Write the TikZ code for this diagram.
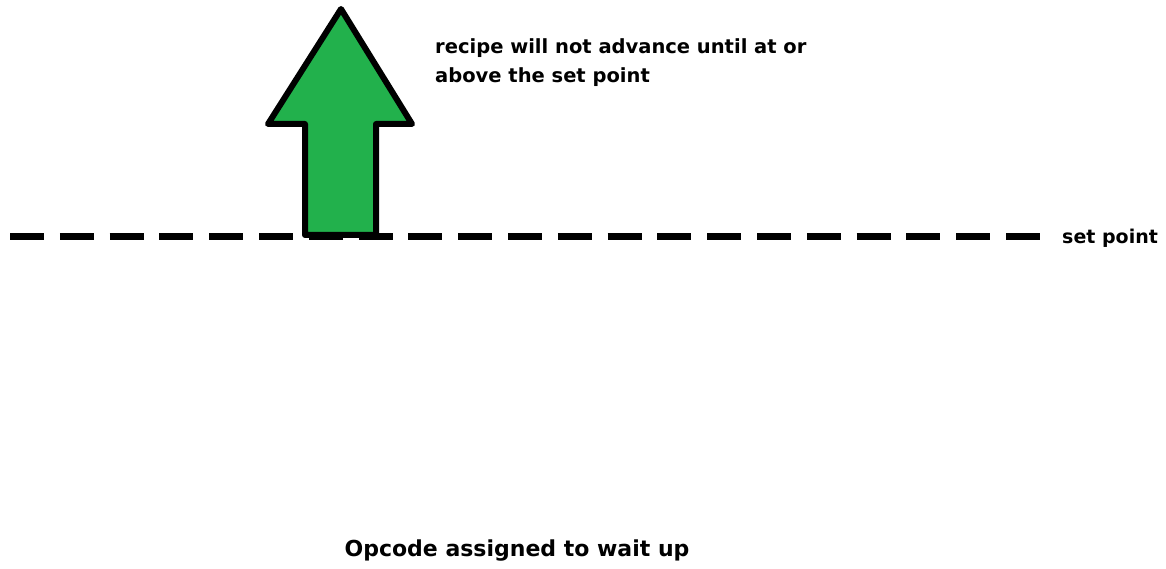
\documentclass[tikz,border=0pt]{standalone}
\usepackage{fontspec}
\setmainfont{DejaVu Sans}
\begin{document}
\begin{tikzpicture}[x=1pt, y=-1pt, every node/.style={inner sep=0pt, font=\bfseries}]
  \useasboundingbox (0,0) rectangle (1166,569);

  % set point line
  \coordinate (sp1) at (10,237);
  \coordinate (sp2) at (1040,237);
  \draw[line width=7pt, dash pattern=on 34pt off 15.8pt] (sp1) -- (sp2);
  \node[anchor=west, font=\bfseries\fontsize{19}{22}\selectfont] (sp) at (1062,238) {set point};

  % green arrow
  \draw[line width=6pt, line join=round, fill={rgb,255:red,34;green,177;blue,76}]
    (341,9) -- (412,124) -- (376,124) -- (376,235) -- (305,235) -- (305,124) -- (268,124) -- cycle;

  \node[anchor=north west, align=left, font=\bfseries\fontsize{19.5}{29}\selectfont] (note) at (435,38)
    {recipe will not advance until at or\\above the set point};

  \node[font=\bfseries\fontsize{22}{26}\selectfont] (title) at (517,551) {Opcode assigned to wait up};
\end{tikzpicture}
\end{document}
